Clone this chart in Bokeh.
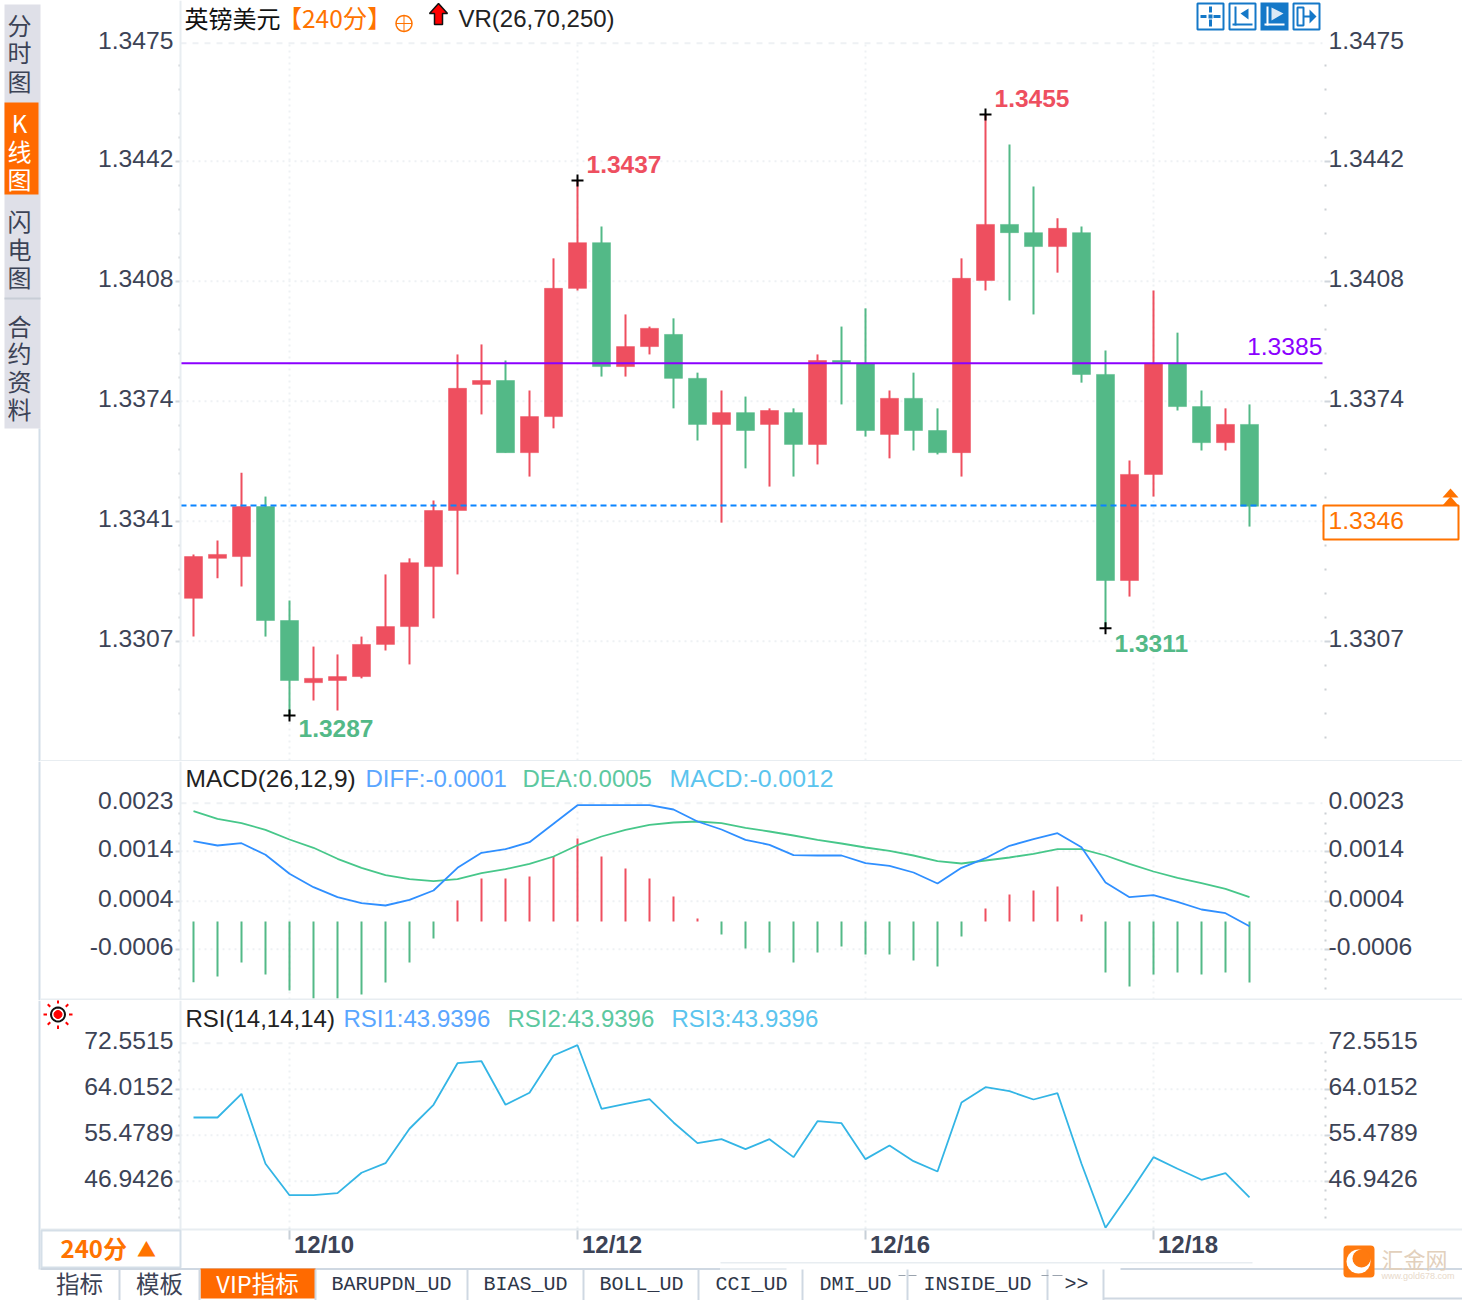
import math
from bokeh.embed import file_html
from bokeh.resources import INLINE
from bokeh.layouts import column
from bokeh.plotting import figure
from bokeh.models import (BoxAnnotation, ColumnDataSource, FixedTicker, Label, LinearAxis,
                          PolyAnnotation, Range1d)

# ---------------------------------------------------------------- data
highs = [1.33318,1.33357,1.33547,1.33480,1.33189,1.33060,1.33038,1.33088,1.33262,1.33307,1.33469,1.33878,1.33906,1.33861,1.33777,1.34147,1.34365,1.34236,1.33990,1.33956,1.33979,1.33827,1.33777,1.33760,1.33727,1.33727,1.33878,1.33956,1.34007,1.33777,1.33827,1.33727,1.34147,1.34550,1.34466,1.34348,1.34259,1.34236,1.33889,1.33581,1.34057,1.33939,1.33777,1.33727,1.33738]
lows = [1.33088,1.33251,1.33228,1.33088,1.32867,1.32909,1.32881,1.32971,1.33049,1.33010,1.33139,1.33262,1.33710,1.33603,1.33536,1.33671,1.34057,1.33816,1.33816,1.33878,1.33727,1.33637,1.33407,1.33559,1.33508,1.33536,1.33570,1.33738,1.33648,1.33587,1.33609,1.33598,1.33536,1.34057,1.34029,1.33990,1.34107,1.33799,1.33111,1.33200,1.33480,1.33721,1.33609,1.33609,1.33396]
opens = [1.33195,1.33307,1.33312,1.33452,1.33133,1.32959,1.32965,1.32976,1.33066,1.33116,1.33284,1.33441,1.33794,1.33805,1.33603,1.33704,1.34063,1.34191,1.33844,1.33900,1.33934,1.33811,1.33682,1.33715,1.33682,1.33715,1.33626,1.33861,1.33853,1.33654,1.33755,1.33665,1.33603,1.34085,1.34242,1.34219,1.34180,1.34219,1.33822,1.33245,1.33542,1.33853,1.33732,1.33631,1.33682]
closes = [1.33312,1.33318,1.33452,1.33133,1.32965,1.32971,1.32976,1.33066,1.33116,1.33295,1.33441,1.33783,1.33805,1.33603,1.33704,1.34063,1.34191,1.33844,1.33900,1.33951,1.33811,1.33682,1.33715,1.33665,1.33721,1.33626,1.33861,1.33855,1.33665,1.33755,1.33665,1.33603,1.34091,1.34242,1.34219,1.34180,1.34231,1.33822,1.33245,1.33542,1.33853,1.33732,1.33631,1.33682,1.33453]
diff = [.001606,.00152,.001566,.001334,.000954,.000686,.000486,.000366,.00032,.000434,.00062,.001074,.001374,.001446,.001586,.001954,.002326,.002326,.002326,.002326,.00224,.002,.00184,.001634,.001534,.001326,.00132,.00132,.001166,.001114,.00098,.00076,.001074,.001266,.001514,.001646,.001766,.001486,.00078,.000486,.000526,.000394,.00024,.000166,-.000094]
dea = [.002206,.002054,.001966,.001834,.00164,.001474,.001254,.001074,.000926,.000846,.000806,.000846,.000966,.001046,.001154,.0013,.001526,.0017,.001834,.001934,.00198,.002,.001966,.001874,.0018,.00172,.001634,.00156,.00148,.001414,.00132,.001206,.00116,.00122,.00128,.001354,.001446,.001446,.00132,.001154,.001,.000874,.000766,.000654,.000486]
macd = [-.001214,-.0011,-.00082,-.00106,-.00138,-.00154,-.00154,-.00146,-.00122,-.00082,-.00034,.00042,.00086,.00086,.0009,.0013,.00166,.0013,.00106,.00086,.0005,.00006,-.00026,-.00054,-.00062,-.00082,-.00062,-.0005,-.00066,-.00066,-.00078,-.0009,-.0003,.00026,.00054,.00062,.0007,.00014,-.00102,-.0013,-.00106,-.00102,-.00106,-.00102,-.00122]
rsi = [58.76,58.76,63.16,50.17,44.34,44.34,44.72,48.50,50.28,56.67,61.12,68.84,69.21,61.12,63.35,70.27,72.18,60.38,61.31,62.16,57.84,54.00,54.74,52.88,54.74,51.40,58.08,57.71,51.03,53.57,50.65,48.74,61.55,64.38,63.64,62.10,63.27,50.17,38.30,44.72,51.40,49.24,47.20,48.43,43.94]

date_ticks = [4, 16, 28, 40]
date_labels = ["12/10", "12/12", "12/16", "12/18"]
price_ticks = [1.34749, 1.34419, 1.34083, 1.33747, 1.33411, 1.33075]
price_labels = ["1.3475", "1.3442", "1.3408", "1.3374", "1.3341", "1.3307"]
macd_ticks = [.002366, .001406, .000406, -.000554]
macd_labels = ["0.0023", "0.0014", "0.0004", "-0.0006"]
rsi_ticks = [72.5515, 64.0152, 55.4789, 46.9426]
rsi_labels = ["72.5515", "64.0152", "55.4789", "46.9426"]
purple_level = 1.33853
last_level = 1.33455
extremes_idx = [16, 33, 38, 4]
extremes_val = [1.34365, 1.34550, 1.33111, 1.32867]
extremes_txt = ["1.3437", "1.3455", "1.3311", "1.3287"]

# ---------------------------------------------------------------- style
RED, GREEN = "#ee4f5f", "#53b987"
AXC, GRIDC, EDGE, TABLINE = "#3c4356", "#eef1f4", "#e8edf1", "#cfd8e2"
ORANGE, BLUE = "#ff7300", "#1478c8"
SANS, CJK, MONO = "Liberation Sans", "Noto Sans CJK SC", "Liberation Mono"
FL, FR = 180, 1322
X0, X1 = (FL - 193) / 24, (FR - 193) / 24          # plot area, in candle units


def panel(top, bottom, yr, frame_y, px, ticks, labels, minors):
    """The figure fills its whole canvas; axes are pinned to the plot-area edges."""
    p = figure(width=1462, height=bottom - top, output_backend="svg", toolbar_location=None,
               x_range=Range1d((0 - 193) / 24, (1462 - 193) / 24), y_range=Range1d(*yr),
               x_axis_location=None, y_axis_location=None,
               min_border_left=0, min_border_right=0, min_border_top=0, min_border_bottom=0,
               outline_line_color=None, background_fill_color="white", border_fill_color="white")
    p.grid.visible = False
    # grid
    for t in ticks[1:]:
        p.line([X0, X1], [t, t], line_color=GRIDC, line_width=2, line_dash=[2, 4])
    for d in date_ticks:
        p.line([d, d], list(frame_y), line_color=GRIDC, line_width=2, line_dash=[2, 4])
    p.line([X0, X1], [ticks[0], ticks[0]], line_color=GRIDC, line_width=2, line_dash=[6, 6])
    shifted = [t + 3 * px for t in ticks]
    for side, loc in (("left", X0), ("right", X1)):
        marks = LinearAxis(fixed_location=loc, ticker=FixedTicker(ticks=ticks[1:], minor_ticks=minors),
                           axis_line_color=None, major_tick_line_color="#d0d6dc", major_tick_line_width=2,
                           minor_tick_line_color="#ccd0d4", minor_tick_line_width=2,
                           major_label_text_color=None, major_label_text_font_size="1px")
        if side == "left":
            marks.major_tick_in, marks.major_tick_out, marks.minor_tick_in, marks.minor_tick_out = 0, 5, 0, 2
        else:
            marks.major_tick_in, marks.major_tick_out, marks.minor_tick_in, marks.minor_tick_out = -2, 8, -2, 4
        p.add_layout(marks, side)
        ax = LinearAxis(fixed_location=loc, ticker=FixedTicker(ticks=shifted),
                        major_label_overrides=dict(zip(shifted, labels)),
                        axis_line_color=None, major_tick_line_color=None, minor_tick_line_color=None,
                        major_tick_in=0, major_tick_out=0,
                        major_label_standoff=7 if side == "left" else 6,
                        major_label_text_font=SANS, major_label_text_font_size="24.7px",
                        major_label_text_color=AXC, major_label_text_font_style="normal")
        p.add_layout(ax, side)
    return p


def box(p, top, l, r, t, b, fill=None, line=None, lw=1, **kw):
    p.add_layout(BoxAnnotation(left=l, right=r, top=t - top, bottom=b - top,
                               left_units="canvas", right_units="canvas", top_units="canvas", bottom_units="canvas",
                               fill_color=fill, fill_alpha=1 if fill else 0,
                               line_color=line, line_alpha=1 if line else 0, line_width=lw, **kw))


def poly(p, top, pts, fill=None, line=None, lw=1):
    p.add_layout(PolyAnnotation(xs=[q[0] for q in pts], ys=[q[1] - top for q in pts],
                                xs_units="canvas", ys_units="canvas",
                                fill_color=fill, fill_alpha=1 if fill else 0,
                                line_color=line, line_alpha=1 if line else 0, line_width=lw))


def ring(cx, cy, r, n=20):
    return [(cx + r * math.cos(2 * math.pi * k / n), cy + r * math.sin(2 * math.pi * k / n)) for k in range(n)]


def txt(p, bottom, px, py, s, color=AXC, size=24, font=SANS, align="left", style="normal"):
    p.add_layout(Label(x=px, y=bottom - py, x_units="screen", y_units="screen", text=s,
                       text_color=color, text_font_size=f"{size}px", text_font=font, text_align=align,
                       text_baseline="middle", text_font_style=style))


xs = list(range(len(closes)))

# ---------------------------------------------------------------- price panel
T1, B1 = 0, 761
p1 = panel(T1, B1, (1.327382, 1.34869), (1.32741, 1.34749), 0.000028, price_ticks, price_labels,
           [1.34419 + k * 0.000672 for k in range(-24, 5) if k % 5])
cols = [RED if c >= o else GREEN for o, c in zip(opens, closes)]
src = ColumnDataSource(dict(x=xs, o=opens, c=closes, h=highs, l=lows, color=cols))
p1.segment("x", "h", "x", "l", source=src, line_color="color", line_width=2)
p1.vbar(x="x", top="o", bottom="c", width=0.75, source=src, fill_color="color", line_color="color", line_width=0.5)
p1.scatter(extremes_idx, extremes_val, marker="cross", size=12, line_color="black", line_width=2)
for i, v, s, off in zip(extremes_idx, extremes_val, extremes_txt, (16, 16, -15, -13)):
    up = v > 1.34
    p1.add_layout(Label(x=i, y=v, text=s, x_offset=9, y_offset=off,
                        text_color=RED if up else GREEN, text_font=SANS, text_font_size="24.5px",
                        text_font_style="bold", text_baseline="middle"))
p1.line([X0, X1], [purple_level, purple_level], line_color="#8b00ff", line_width=2)
p1.line([X0, 46.875], [last_level, last_level], line_color="#0a84ff", line_width=2, line_dash=[6, 4])

txt(p1, B1, 184, 17, "英镑美元", "#111111", font=CJK)
txt(p1, B1, 277, 17, "【240分】", ORANGE, size=24.5, font=CJK)
txt(p1, B1, 458, 18, "VR(26,70,250)", "#222222")
poly(p1, 0, ring(403.5, 23, 8), None, ORANGE, 1.5)
box(p1, 0, 395.5, 411.5, 22.5, 23.5, ORANGE)
box(p1, 0, 403, 404, 15, 31, ORANGE)
poly(p1, 0, [(438, 3), (447, 13), (442, 13), (442, 24), (434, 24), (434, 13), (429, 13)], "#ff0000", "#111111", 1.5)
txt(p1, B1, 1322, 346, "1.3385", "#8b00ff", size=24.7, align="right")

# right-hand current price tag
box(p1, 0, 1323, 1458, 505, 539, "white", ORANGE, 2)
txt(p1, B1, 1328, 520, "1.3346", ORANGE, size=24.7)
poly(p1, 0, [(1450, 488), (1458, 497), (1442, 497)], ORANGE)
poly(p1, 0, [(1450, 496), (1458, 505), (1442, 505)], ORANGE)

# toolbar icons
for l in (1196, 1228, 1292):
    box(p1, 0, l + 1, l + 27, 3, 29, "white", BLUE, 2)
box(p1, 0, 1260, 1288, 2, 30, BLUE)
for a in ((1200, 1206, 14.5, 17.5), (1213, 1220, 14.5, 17.5), (1208.5, 1211.5, 6, 12), (1208.5, 1211.5, 19, 26)):
    box(p1, 0, a[0], a[1], a[2], a[3], BLUE)
box(p1, 0, 1208, 1212, 14, 18, BLUE)
box(p1, 0, 1234, 1236, 6, 25, BLUE)
box(p1, 0, 1232, 1252, 23, 25, BLUE)
poly(p1, 0, [(1248, 8), (1248, 19), (1240, 13)], BLUE)
box(p1, 0, 1266, 1268, 6, 25, "white")
box(p1, 0, 1264, 1284, 23, 25, "white")
poly(p1, 0, [(1271, 7), (1271, 20), (1283, 13)], "#dbe9f6")
box(p1, 0, 1297, 1303, 7, 25, "white", BLUE, 2)
box(p1, 0, 1303, 1310, 15, 17, BLUE)
poly(p1, 0, [(1309, 9), (1309, 23), (1316, 16)], BLUE)

# side tabs
box(p1, 0, 4, 40, 4, 428, "#dfe0e8")
box(p1, 0, 4, 38, 102, 194, "#ff6a00")
box(p1, 0, 4, 40, 297, 299, "#c8cdd6")
for ch, y in zip("分时图", (24, 51, 80)):
    txt(p1, B1, 19, y, ch, AXC, font=CJK, align="center")
for ch, y in zip("K线图", (122, 150, 178)):
    txt(p1, B1, 19, y, ch, "white", font=CJK, align="center")
for ch, y in zip("闪电图", (220, 248, 276)):
    txt(p1, B1, 19, y, ch, AXC, font=CJK, align="center")
for ch, y in zip("合约资料", (325, 352, 380, 408)):
    txt(p1, B1, 19, y, ch, AXC, font=CJK, align="center")
box(p1, 0, 38, 40, 428, 761, "#d3dee8")
box(p1, 0, 179, 181, 0, 761, EDGE)
box(p1, 0, 40, 1462, 759.5, 761, EDGE)

# ---------------------------------------------------------------- MACD panel
T2, B2 = 761, 1000
p2 = panel(T2, B2, (-.00158, .0032), (-.00156, .002366), 0.00002, macd_ticks, macd_labels,
           [.000406 + k * .000194 for k in range(-10, 11) if k % 5])
hist_cols = [RED if v >= 0 else GREEN for v in macd]
src2 = ColumnDataSource(dict(x=xs, y0=[0] * len(macd), y=macd, color=hist_cols))
p2.segment("x", "y0", "x", "y", source=src2, line_color="color", line_width=2)
p2.line(xs, dea, line_color="#47c78a", line_width=1.8)
p2.line(xs, diff, line_color="#2f8fff", line_width=1.8)
txt(p2, B2, 185, 778, "MACD(26,12,9)", "#222222", size=24.5)
txt(p2, B2, 365, 778, "DIFF:-0.0001", "#5aa6ff")
txt(p2, B2, 522, 778, "DEA:0.0005", "#5cc8a0")
txt(p2, B2, 669, 778, "MACD:-0.0012", "#5bc4ee", size=24.8)
box(p2, T2, 38, 40, 761, 1000, "#d3dee8")
box(p2, T2, 179, 181, 761, 1000, EDGE)
box(p2, T2, 40, 1462, 998, 1000, EDGE)

# ---------------------------------------------------------------- RSI panel
T3, B3 = 1000, 1300
RSI_FLOOR = 38.165
p3 = panel(T3, B3, (24.793, 80.476), (RSI_FLOOR, 72.5515), 0.18557, rsi_ticks, rsi_labels,
           [46.9426 + k * 1.70726 for k in range(-5, 15) if k % 5])
p3.line(xs, rsi, line_color="#33b5e5", line_width=1.8)
p3.add_layout(LinearAxis(fixed_location=RSI_FLOOR, ticker=FixedTicker(ticks=date_ticks),
                         axis_line_color=None, major_tick_line_color="#c8d0d8", major_tick_line_width=2,
                         major_tick_in=0, major_tick_out=11, minor_tick_line_color=None,
                         major_label_text_color=None, major_label_text_font_size="1px"), "below")
label_x = [t + 1.4375 for t in date_ticks]
p3.add_layout(LinearAxis(fixed_location=RSI_FLOOR, ticker=FixedTicker(ticks=label_x),
                         major_label_overrides=dict(zip(label_x, date_labels)),
                         axis_line_color=None, major_tick_line_color=None, minor_tick_line_color=None,
                         major_tick_in=0, major_tick_out=0, major_label_standoff=3,
                         major_label_text_font=SANS, major_label_text_font_size="24px",
                         major_label_text_font_style="bold", major_label_text_color=AXC), "below")
txt(p3, B3, 185, 1018, "RSI(14,14,14)", "#222222")
txt(p3, B3, 343, 1018, "RSI1:43.9396", "#5aa6ff")
txt(p3, B3, 507, 1018, "RSI2:43.9396", "#5cc8a0")
txt(p3, B3, 671, 1018, "RSI3:43.9396", "#5bc4ee")
# sun marker
poly(p3, T3, ring(57.5, 1014, 7), None, "#111111", 2)
poly(p3, T3, ring(57.5, 1014, 4), "#ff0000", "#ff0000", 1)
for k in range(8):
    a = k * math.pi / 4
    poly(p3, T3, [(57.5 + 11 * math.cos(a), 1014 + 11 * math.sin(a)), (57.5 + 14.5 * math.cos(a), 1014 + 14.5 * math.sin(a))],
         None, "#ff0000", 2)
box(p3, T3, 38, 40, 1000, 1269, "#d3dee8")
box(p3, T3, 179, 181, 1000, 1229, EDGE)
box(p3, T3, 40, 1462, 1228, 1230, EDGE)
# period selector
box(p3, T3, 41, 180, 1230, 1267, "white", "#d5dfe8", 2)
txt(p3, B3, 60, 1247, "240分", ORANGE, font=CJK, style="bold")
txt(p3, B3, 146, 1248, "▲", ORANGE, size=19, font=CJK, align="center", style="bold")
# tab bar
box(p3, T3, 40, 720, 1267.5, 1269.5, TABLINE)
box(p3, T3, 720, 1252, 1261.5, 1263, EDGE)
box(p3, T3, 720, 786, 1267.5, 1269.5, EDGE)
box(p3, T3, 1120, 1462, 1267.5, 1269.5, TABLINE)
box(p3, T3, 1103, 1462, 1297, 1299, TABLINE)
box(p3, T3, 200, 315, 1268, 1298, "#ff6a00")
for x in (119, 199, 315, 467, 583, 698, 802, 907, 1047, 1103):
    box(p3, T3, x - 1, x + 1, 1269, 1300, TABLINE)
for l, r in ((898, 905), (908, 916), (1041, 1048), (1052, 1062)):
    box(p3, T3, l, r, 1274.5, 1275.5, "#9aa3ae")
txt(p3, B3, 79, 1282, "指标", AXC, size=23.5, font=CJK, align="center")
txt(p3, B3, 159, 1282, "模板", AXC, size=23.5, font=CJK, align="center")
txt(p3, B3, 257, 1282, "VIP指标", "white", size=23.5, font=CJK, align="center")
for s, x in (("BARUPDN_UD", 391), ("BIAS_UD", 525), ("BOLL_UD", 641), ("CCI_UD", 751),
             ("DMI_UD", 855), ("INSIDE_UD", 977), (">>", 1076)):
    txt(p3, B3, x, 1284, s, "#2e3648", size=20, font=MONO, align="center")
# logo
box(p3, T3, 1343, 1374, 1245, 1277, "#ff7a0f", border_radius=4)
poly(p3, T3, ring(1358, 1261, 12), "white")
poly(p3, T3, ring(1361, 1258, 9), "#ff7a0f")
txt(p3, B3, 1381, 1257, "汇金网", "#e2d0bc", size=22, font=CJK)
txt(p3, B3, 1381, 1275, "www.gold678.com", "#e8d9ca", size=9)

root = column(p1, p2, p3, spacing=0)
open("out.html", "w").write(file_html(root, INLINE))
